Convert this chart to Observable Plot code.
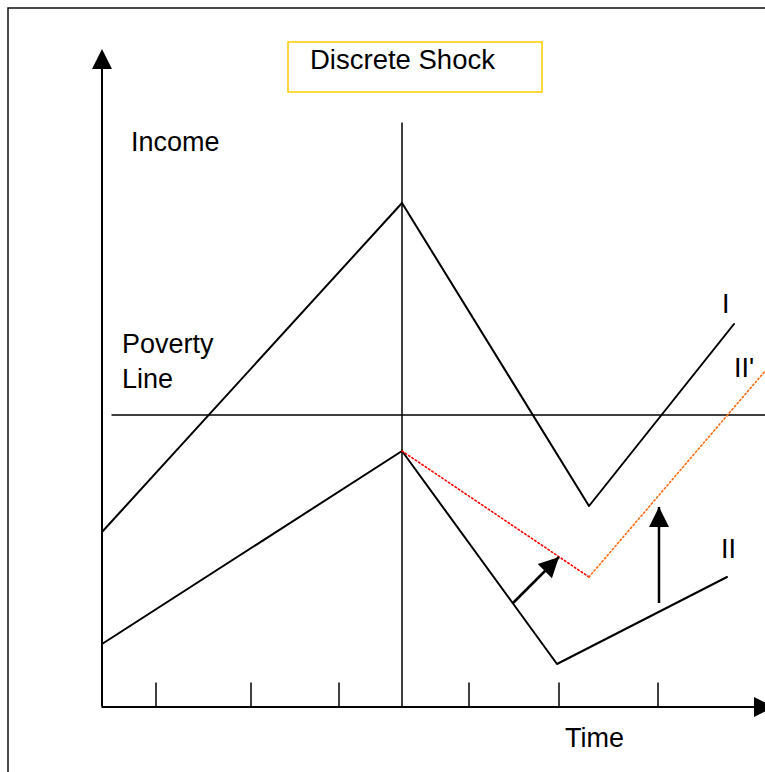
<!DOCTYPE html>
<html>
<head>
<meta charset="utf-8">
<script src="https://cdn.jsdelivr.net/npm/d3@7"></script>
<script src="https://cdn.jsdelivr.net/npm/@observablehq/plot@0.6"></script>
<style>
  html, body { margin: 0; padding: 0; background: #fff; }
  #chart svg { display: block; }
</style>
</head>
<body>
<div id="chart"></div>
<script>
// ---- Data (time and income in diagram units; origin at the axes corner) ----
const timeI = [0, 300, 487, 632];
const incomeI = [175, 504, 201, 383];

const timeII = [0, 300, 455, 625];
const incomeII = [63, 256, 43, 130];

const timeIIp = [300, 487, 664];
const incomeIIp = [256, 130, 337];

const povertyLevel = 292;
const povertyFrom = 10;
const povertyTo = 664;

const shockTime = 300;
const shockTop = 584;

const tickTimes = [54, 149, 237, 367, 457, 556];

const arrowStartT = [411, 557];
const arrowStartV = [104, 104];
const arrowTipT = [457, 557];
const arrowTipV = [150, 200];

const axisTopV = 658;   // tip of income axis arrow
const axisEndT = 672;   // tip of time axis arrow

const labelTexts = ["Income", "Poverty", "Line", "I", "II'", "II", "Time"];
const labelT = [29, 20, 20, 620, 632, 619, 463];
const labelV = [556, 354, 319, 394, 330, 149, -40];

const titleText = "Discrete Shock";

// ---- Build tables ----
const zipRows = (ts, vs) => ts.map((t, i) => ({t, v: vs[i]}));
const lineI = zipRows(timeI, incomeI);
const lineII = zipRows(timeII, incomeII);
const lineIIpRed = zipRows(timeIIp.slice(0, 2), incomeIIp.slice(0, 2));
const lineIIpOrange = zipRows(timeIIp.slice(1), incomeIIp.slice(1));
const labels = labelTexts.map((text, i) => ({text, t: labelT[i], v: labelV[i]}));

const arrows = arrowStartT.map((t, i) => ({
  t1: t, v1: arrowStartV[i], t2: arrowTipT[i], v2: arrowTipV[i],
  angle: Math.atan2(arrowTipT[i] - t, arrowTipV[i] - arrowStartV[i]) * 180 / Math.PI
}));
const heads = [
  {t: 0, v: axisTopV, angle: 0},
  {t: axisEndT, v: 0, angle: 90},
  ...arrows.map(a => ({t: a.t2, v: a.v2, angle: a.angle}))
];

// custom filled arrowhead: tip at origin, pointing up
const arrowHead = {
  draw(context) {
    context.moveTo(0, 0);
    context.lineTo(10, 20);
    context.lineTo(-10, 20);
    context.closePath();
  }
};

const font = "'Liberation Sans', Arial, Helvetica, sans-serif";

const chart = Plot.plot({
  width: 765,
  height: 772,
  marginTop: 0, marginRight: 0, marginBottom: 0, marginLeft: 0,
  style: {fontFamily: font, background: "#fff"},
  x: {domain: [-101.5, 663.5], range: [0, 765], axis: null},
  y: {domain: [-65.5, 706.5], range: [772, 0], axis: null},
  marks: [
    // outer frame
    Plot.rect([{}], {x1: -93.5, x2: 700, y1: -120, y2: 698.5, fill: "none", stroke: "#111", strokeWidth: 1.5}),
    // title box
    Plot.rect([{}], {x1: 186.5, x2: 440.5, y1: 614.5, y2: 664.5, fill: "#fff", stroke: "#FFCC00", strokeWidth: 1.5}),
    Plot.text([titleText], {x: 208, y: 638.5, text: d => d, textAnchor: "start", lineAnchor: "bottom", fontSize: 27.5, fill: "#000"}),
    // shock vertical line
    Plot.ruleX([shockTime], {y1: 0, y2: shockTop, stroke: "#000", strokeWidth: 1.5}),
    // poverty line
    Plot.ruleY([povertyLevel], {x1: povertyFrom, x2: povertyTo, stroke: "#000", strokeWidth: 1.5}),
    // income paths
    Plot.line(lineI, {x: "t", y: "v", stroke: "#000", strokeWidth: 2}),
    Plot.line(lineII, {x: "t", y: "v", stroke: "#000", strokeWidth: 2}),
    Plot.line(lineIIpRed, {x: "t", y: "v", stroke: "#ff0000", strokeWidth: 1.6, strokeDasharray: "1.5,2.5"}),
    Plot.line(lineIIpOrange, {x: "t", y: "v", stroke: "#ff6a10", strokeWidth: 1.6, strokeDasharray: "1.5,2.5"}),
    // axes
    Plot.ruleX([0], {y1: 0, y2: axisTopV - 18, stroke: "#000", strokeWidth: 2}),
    Plot.ruleY([0], {x1: 0, x2: axisEndT - 18, stroke: "#000", strokeWidth: 2}),
    Plot.ruleX(tickTimes, {y1: 0, y2: 24, stroke: "#000", strokeWidth: 1.5}),
    // arrows
    Plot.link(arrows, {x1: "t1", y1: "v1", x2: "t2", y2: "v2", stroke: "#000", strokeWidth: 2.5}),
    Plot.dot(heads, {x: "t", y: "v", rotate: "angle", symbol: arrowHead, fill: "#000", stroke: "none"}),
    // labels
    Plot.text(labels, {x: "t", y: "v", text: "text", textAnchor: "start", lineAnchor: "bottom", fontSize: 27, fill: "#000"})
  ]
});

document.getElementById("chart").append(chart);
</script>
</body>
</html>
